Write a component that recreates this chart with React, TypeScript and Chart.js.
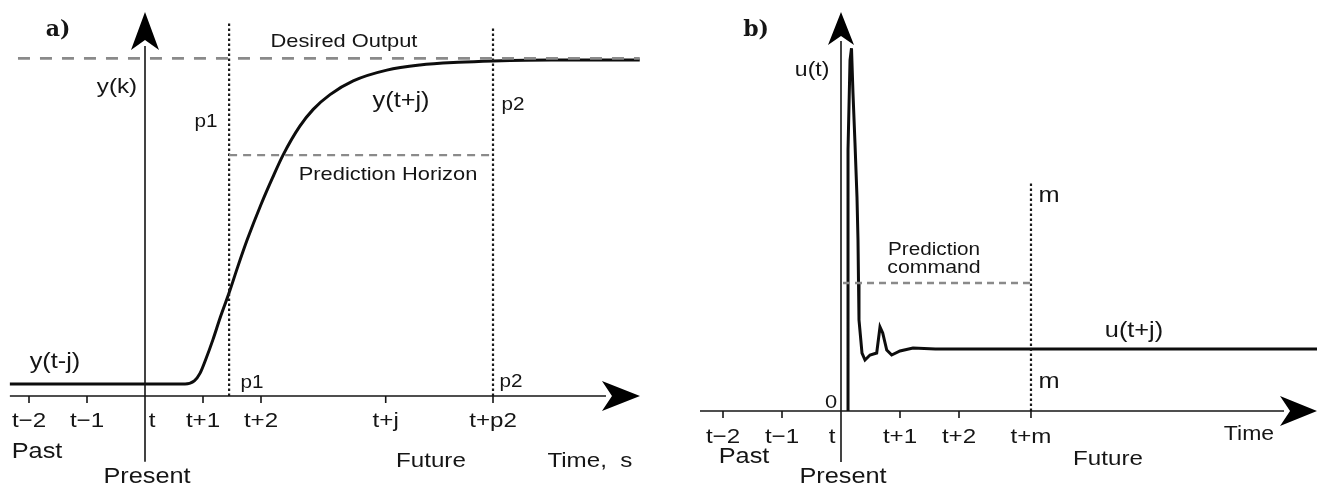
import React, { useEffect, useRef } from "react";
import { Chart, registerables } from "chart.js";

Chart.register(...registerables);

// ---------- Panel a): predicted output ----------
const outputTime = [-2.33, 0.69, 0.85, 0.95, 1.05, 1.17, 1.3, 1.45, 1.6, 1.76, 2.0, 2.2, 2.38, 2.67, 2.9, 3.19, 3.59, 4.17, 4.74, 5.4, 6.0, 7.0, 8.53];
const outputValue = [0.036, 0.036, 0.045, 0.068, 0.11, 0.167, 0.235, 0.307, 0.385, 0.464, 0.57, 0.65, 0.717, 0.803, 0.853, 0.897, 0.938, 0.97, 0.985, 0.993, 0.997, 1.0, 1.0];
const desiredLevel = 1.005;
const desiredRange = [-2.19, 8.53];
const horizonLevel = 0.717;
const p1 = 1.45;
const p2 = 6.0;
const p1Top = 1.113;
const p2Top = 1.098;
const outputTickValues = [-2, -1, 0, 1, 2, 4.15, 6];
const outputTickLabels = ["t\u22122", "t\u22121", "t", "t+1", "t+2", "t+j", "t+p2"];

// ---------- Panel b): control signal ----------
const controlTime = [0.119, 0.119, 0.153, 0.178, 0.203, 0.237, 0.271, 0.288, 0.297, 0.305, 0.356, 0.407, 0.492, 0.605, 0.661, 0.707, 0.775, 0.859, 1.0, 1.22, 1.6, 8.07];
const controlValue = [0, 4.21, 5.66, 5.85, 5.13, 4.32, 3.45, 2.76, 2.06, 1.47, 0.935, 0.823, 0.903, 0.935, 1.355, 1.258, 0.984, 0.903, 0.968, 1.016, 1.0, 1.0];
const commandLevel = 2.065;
const commandStart = 0.034;
const mHorizon = 3.22;
const mTop = 3.69;
const controlTickValues = [-2, -1, 0, 1, 2, 3.22];
const controlTickLabels = ["t\u22122", "t\u22121", "t", "t+1", "t+2", "t+m"];

const SANS = '"Liberation Sans", Arial, sans-serif';
const INK = "#151515";
const GRAY = "#8a8a8a";
const STRETCH = 1.15;

type Note = { text: string; x: number; y: number; size: number; serif?: boolean; middle?: boolean; dx?: number };

function drawArrow(ctx: CanvasRenderingContext2D, tx: number, ty: number, dirX: number, dirY: number, len: number, half: number, notch: number) {
  const bx = tx - dirX * len;
  const by = ty - dirY * len;
  const nx = -dirY;
  const ny = dirX;
  ctx.beginPath();
  ctx.moveTo(tx, ty);
  ctx.lineTo(bx + nx * half, by + ny * half);
  ctx.lineTo(tx - dirX * (len - notch), ty - dirY * (len - notch));
  ctx.lineTo(bx - nx * half, by - ny * half);
  ctx.closePath();
  ctx.fillStyle = "#000";
  ctx.fill();
}

function makeDecor(opts: {
  xStart: number; xTip: number; yBottom: number; yTip: number;
  xArrow: [number, number, number]; yArrow: [number, number, number];
  ticks: number[]; tickMarks: number[]; labels: string[]; labelY: number; tDx: number;
  notes: Note[];
}) {
  return {
    id: "decor",
    afterDatasetsDraw(chart: any) {
      const ctx: CanvasRenderingContext2D = chart.ctx;
      const xs = chart.scales.x;
      const ys = chart.scales.y;
      const X = (v: number) => xs.getPixelForValue(v);
      const Y = (v: number) => ys.getPixelForValue(v);
      ctx.save();
      ctx.strokeStyle = INK;
      ctx.lineWidth = 1.6;
      ctx.setLineDash([]);
      // x axis
      ctx.beginPath();
      ctx.moveTo(X(opts.xStart), Y(0));
      ctx.lineTo(X(opts.xTip) - opts.xArrow[0] + 4, Y(0));
      ctx.stroke();
      drawArrow(ctx, X(opts.xTip), Y(0), 1, 0, opts.xArrow[0], opts.xArrow[1], opts.xArrow[2]);
      // y axis
      ctx.beginPath();
      ctx.moveTo(X(0), Y(opts.yBottom));
      ctx.lineTo(X(0), Y(opts.yTip) + opts.yArrow[0] - 4);
      ctx.stroke();
      drawArrow(ctx, X(0), Y(opts.yTip), 0, -1, opts.yArrow[0], opts.yArrow[1], opts.yArrow[2]);
      // tick marks
      ctx.lineWidth = 1.6;
      opts.tickMarks.forEach((v) => {
        ctx.beginPath();
        ctx.moveTo(X(v), Y(0));
        ctx.lineTo(X(v), Y(0) + 7);
        ctx.stroke();
      });
      const text = (s: string, px: number, py: number, size: number, serif?: boolean, middle?: boolean) => {
        ctx.save();
        ctx.translate(px, py);
        ctx.scale(serif ? 1 : STRETCH, 1);
        ctx.font = serif ? `bold ${size}px "DejaVu Serif", serif` : `${size}px ${SANS}`;
        ctx.fillStyle = INK;
        ctx.textAlign = "center";
        ctx.textBaseline = middle ? "middle" : "alphabetic";
        ctx.fillText(s, 0, 0);
        ctx.restore();
      };
      opts.ticks.forEach((v, i) => {
        const dx = opts.labels[i] === "t" ? opts.tDx : 0;
        text(opts.labels[i], X(v) + dx, Y(opts.labelY), 21);
      });
      opts.notes.forEach((n) => text(n.text, X(n.x) + (n.dx || 0), Y(n.y), n.size, n.serif, n.middle));
      ctx.restore();
    },
  };
}

function lineDs(data: { x: number; y: number }[], color: string, width: number, dash: number[] = [], mono = false) {
  return {
    data,
    borderColor: color,
    borderWidth: width,
    borderDash: dash,
    pointRadius: 0,
    fill: false,
    tension: mono ? 0.4 : 0,
    cubicInterpolationMode: mono ? "monotone" : "default",
    borderCapStyle: "butt",
  };
}

function outputConfig(): any {
  return {
    type: "line",
    data: {
      datasets: [
        lineDs(desiredRange.map((x) => ({ x, y: desiredLevel })), GRAY, 2.8, [12, 10]),
        lineDs([{ x: p1, y: horizonLevel }, { x: p2, y: horizonLevel }], GRAY, 2.4, [8, 6]),
        lineDs([{ x: p1, y: 0 }, { x: p1, y: p1Top }], "#1a1a1a", 2.2, [2.5, 2.5]),
        lineDs([{ x: p2, y: 0 }, { x: p2, y: p2Top }], "#1a1a1a", 2.2, [2.5, 2.5]),
        lineDs(outputTime.map((x, i) => ({ x, y: outputValue[i] })), "#0d0d0d", 3, [], true),
      ],
    },
    options: {
      responsive: false,
      animation: false,
      layout: { padding: 0 },
      plugins: { legend: { display: false }, tooltip: { enabled: false } },
      scales: {
        x: { type: "linear", display: false, min: -2.5, max: 8.793 },
        y: { type: "linear", display: false, min: -0.2679, max: 1.1786 },
      },
    },
    plugins: [
      makeDecor({
        xStart: -2.33, xTip: 8.534, yBottom: -0.196, yTip: 1.143,
        xArrow: [38, 15, 10], yArrow: [38, 14, 10],
        ticks: outputTickValues, tickMarks: [-2, -1, 1, 2, 4.15, 6], labels: outputTickLabels, labelY: -0.0923, tDx: 7,
        notes: [
          { text: "a)", x: -1.5, y: 1.089, size: 22, serif: true, middle: true },
          { text: "Desired Output", x: 3.43, y: 1.039, size: 19 },
          { text: "y(k)", x: -0.483, y: 0.902, size: 21 },
          { text: "p1", x: 1.052, y: 0.8, size: 18 },
          { text: "y(t+j)", x: 4.414, y: 0.86, size: 22 },
          { text: "p2", x: 6.345, y: 0.851, size: 18 },
          { text: "Prediction Horizon", x: 4.19, y: 0.643, size: 19 },
          { text: "y(t-j)", x: -1.552, y: 0.0833, size: 22 },
          { text: "p1", x: 1.845, y: 0.0238, size: 18 },
          { text: "p2", x: 6.31, y: 0.0268, size: 18 },
          { text: "Past", x: -1.862, y: -0.1845, size: 22 },
          { text: "Present", x: 0.034, y: -0.259, size: 22 },
          { text: "Future", x: 4.93, y: -0.2113, size: 21 },
          { text: "Time,  s", x: 7.67, y: -0.2113, size: 21 },
        ],
      }),
    ],
  };
}

function controlConfig(): any {
  return {
    type: "line",
    data: {
      datasets: [
        lineDs([{ x: commandStart, y: commandLevel }, { x: mHorizon, y: commandLevel }], GRAY, 2.4, [7, 5]),
        lineDs([{ x: mHorizon, y: 0 }, { x: mHorizon, y: mTop }], "#1a1a1a", 2.2, [2.5, 2.5]),
        lineDs(controlTime.map((x, i) => ({ x, y: controlValue[i] })), "#0d0d0d", 3),
      ],
    },
    options: {
      responsive: false,
      animation: false,
      layout: { padding: 0 },
      plugins: { legend: { display: false }, tooltip: { enabled: false } },
      scales: {
        x: { type: "linear", display: false, min: -3.0678, max: 8.0678 },
        y: { type: "linear", display: false, min: -1.2097, max: 6.629 },
      },
    },
    plugins: [
      makeDecor({
        xStart: -2.39, xTip: 8.068, yBottom: -0.823, yTip: 6.435,
        xArrow: [37, 15, 10], yArrow: [33, 13, 9],
        ticks: controlTickValues, tickMarks: [-2, -1, 1, 2, 3.22], labels: controlTickLabels, labelY: -0.516, tDx: -9,
        notes: [
          { text: "b)", x: -1.44, y: 6.145, size: 22, serif: true, middle: true },
          { text: "u(t)", x: -0.49, y: 5.403, size: 20 },
          { text: "Prediction", x: 1.576, y: 2.516, size: 18 },
          { text: "command", x: 1.576, y: 2.226, size: 18.5 },
          { text: "m", x: 3.525, y: 3.371, size: 22 },
          { text: "m", x: 3.525, y: 0.371, size: 22 },
          { text: "u(t+j)", x: 4.966, y: 1.194, size: 22 },
          { text: "0", x: -0.169, y: 0.048, size: 19 },
          { text: "Past", x: -1.644, y: -0.839, size: 22 },
          { text: "Present", x: 0.034, y: -1.161, size: 22 },
          { text: "Future", x: 4.525, y: -0.871, size: 21 },
          { text: "Time", x: 6.915, y: -0.468, size: 20 },
        ],
      }),
    ],
  };
}

function Panel({ make, left, width }: { make: () => any; left: number; width: number }) {
  const ref = useRef<HTMLCanvasElement | null>(null);
  useEffect(() => {
    if (!ref.current) return;
    const chart = new Chart(ref.current, make());
    return () => chart.destroy();
  }, [make]);
  return (
    <canvas
      ref={ref}
      width={width}
      height={486}
      style={{ position: "absolute", left, top: 0, width, height: 486, display: "block" }}
    />
  );
}

export default function App() {
  return (
    <div style={{ position: "absolute", left: 0, top: 0, width: 1317, height: 486, background: "#fff", overflow: "hidden" }}>
      <Panel make={outputConfig} left={0} width={655} />
      <Panel make={controlConfig} left={660} width={657} />
    </div>
  );
}
